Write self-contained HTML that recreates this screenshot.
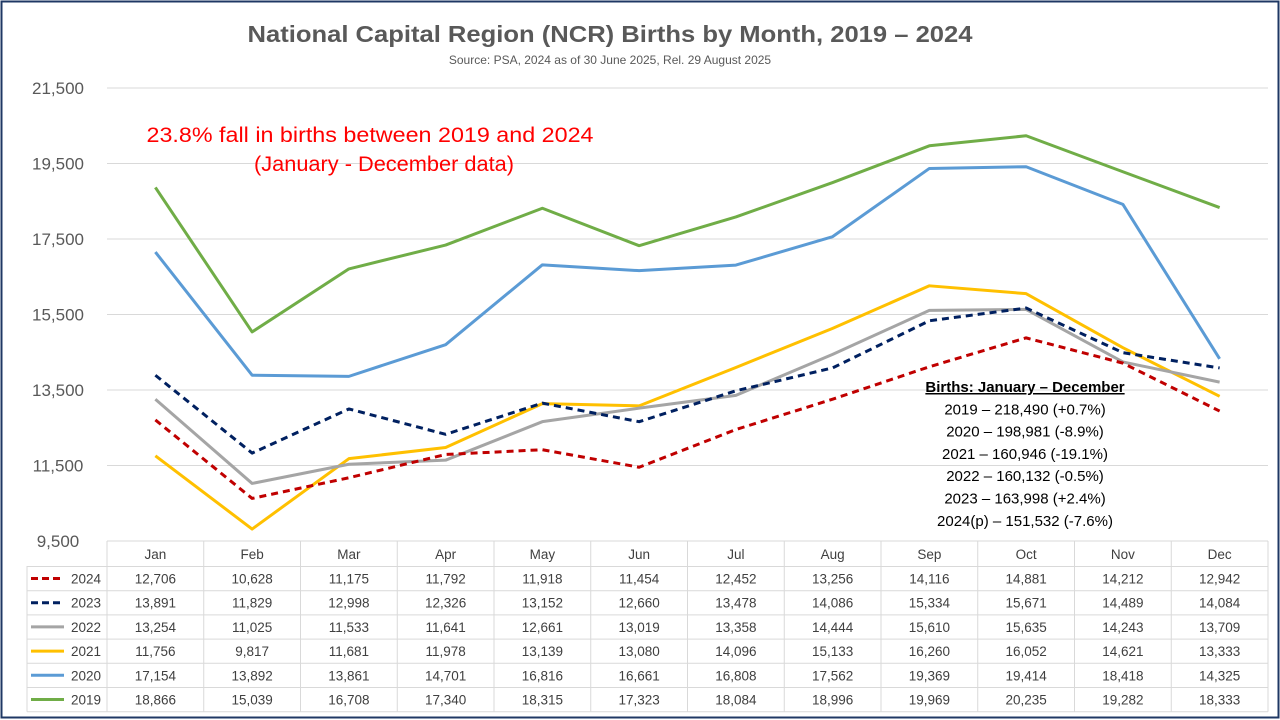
<!DOCTYPE html>
<html><head><meta charset="utf-8"><style>
body{margin:0;background:#fff;font-family:"Liberation Sans",sans-serif}
#wrap{position:relative;width:1280px;height:720px;overflow:hidden}
</style></head><body>
<div id="wrap">
<svg id="c" width="1280" height="720" xmlns="http://www.w3.org/2000/svg"></svg>
</div>
<script>
const months=["Jan","Feb","Mar","Apr","May","Jun","Jul","Aug","Sep","Oct","Nov","Dec"];
const years=["2024","2023","2022","2021","2020","2019"];
const v2024=[12706,10628,11175,11792,11918,11454,12452,13256,14116,14881,14212,12942];
const v2023=[13891,11829,12998,12326,13152,12660,13478,14086,15334,15671,14489,14084];
const v2022=[13254,11025,11533,11641,12661,13019,13358,14444,15610,15635,14243,13709];
const v2021=[11756,9817,11681,11978,13139,13080,14096,15133,16260,16052,14621,13333];
const v2020=[17154,13892,13861,14701,16816,16661,16808,17562,19369,19414,18418,14325];
const v2019=[18866,15039,16708,17340,18315,17323,18084,18996,19969,20235,19282,18333];
const yTicks=[9500,11500,13500,15500,17500,19500,21500];
const totals=["Births: January \u2013 December","2019 \u2013 218,490 (+0.7%)","2020 \u2013 198,981 (-8.9%)","2021 \u2013 160,946 (-19.1%)","2022 \u2013 160,132 (-0.5%)","2023 \u2013 163,998 (+2.4%)","2024(p) \u2013 151,532 (-7.6%)"];
const series=[
 {d:v2024,c:"#c00000",dash:"7,5"},{d:v2023,c:"#002060",dash:"7,5"},{d:v2022,c:"#a5a5a5",dash:null},
 {d:v2021,c:"#ffc000",dash:null},{d:v2020,c:"#5b9bd5",dash:null},{d:v2019,c:"#70ad47",dash:null}];
const svg=document.getElementById('c');
const NS="http://www.w3.org/2000/svg";
const X0=107,CW=96.75,YT=88,YB=541;
const x=i=>X0+CW*(i+0.5);
const y=v=>YB-(v-9500)/12000*(YB-YT);
function el(t,a,txt){const e=document.createElementNS(NS,t);for(const k in a)e.setAttribute(k,a[k]);if(txt!=null)e.textContent=txt;svg.appendChild(e);return e;}
let e=el('rect',{x:1.5,y:1.5,width:1277,height:716,fill:'none',stroke:'#1f3864','stroke-width':2});

e=el('text',{x:610,y:42,'text-anchor':'middle','font-size':23,'font-weight':'bold',fill:'#595959',textLength:725,lengthAdjust:'spacingAndGlyphs'},'National Capital Region (NCR) Births by Month, 2019 \u2013 2024');

e=el('text',{x:610,y:64,'text-anchor':'middle','font-size':12,fill:'#595959'},'Source: PSA, 2024 as of 30 June 2025, Rel. 29 August 2025');

yTicks.forEach(t=>{
 if(t>9500){e=el('line',{x1:X0,x2:1268,y1:y(t),y2:y(t),stroke:'#d9d9d9','stroke-width':1});
 }
 e=el('text',{x:58,y:y(t)+6,'text-anchor':'middle','font-size':17,fill:'#595959'},t.toLocaleString('en-US'));
 
});
e=el('text',{x:370,y:142,'text-anchor':'middle','font-size':21,fill:'#ff0000',textLength:447,lengthAdjust:'spacingAndGlyphs'},'23.8% fall in births between 2019 and 2024');

e=el('text',{x:384,y:171,'text-anchor':'middle','font-size':21,fill:'#ff0000',textLength:260,lengthAdjust:'spacingAndGlyphs'},'(January - December data)');

series.slice().reverse().forEach((s,k)=>{
 const a={points:s.d.map((v,i)=>x(i)+','+y(v)).join(' '),fill:'none',stroke:s.c,'stroke-width':3,'stroke-linejoin':'round'};
 if(s.dash)a['stroke-dasharray']=s.dash;
 e=el('polyline',a);
 
});
totals.forEach((t,i)=>{
 e=el('text',{x:1025,y:392+i*22.3,'text-anchor':'middle','font-size':15,fill:'#000','font-weight':i==0?'bold':'normal','text-decoration':i==0?'underline':'none'},t);
 
});
const RT=541;
const rowY=r=>r==0?RT:RT+25.5+(r-1)*24.2;
el('rect',{x:27,y:566,width:1241,height:145,fill:'#fff'});
el('rect',{x:X0,y:RT,width:1161,height:25.5,fill:'#fff'});
for(let r=0;r<=7;r++){const yy=rowY(r);e=el('line',{x1:r==0?X0:27,x2:1268,y1:yy,y2:yy,stroke:'#d9d9d9'});
 }
for(let c=0;c<=12;c++){const xx=X0+c*CW;e=el('line',{x1:xx,x2:xx,y1:RT,y2:rowY(7),stroke:'#d9d9d9'});
 }
el('line',{x1:27,x2:27,y1:566,y2:rowY(7),stroke:'#d9d9d9'});
months.forEach((m,i)=>{e=el('text',{x:x(i),y:RT+18,'text-anchor':'middle','font-size':13.5,fill:'#404040'},m);
 });
series.forEach((s,r)=>{
 const yy=rowY(r+1)+17;
 const a={x1:31,x2:64,y1:yy-5,y2:yy-5,stroke:s.c,'stroke-width':3};
 if(s.dash)a['stroke-dasharray']='7,4';
 e=el('line',a);
 e=el('text',{x:101,y:yy,'text-anchor':'end','font-size':13.5,fill:'#404040'},years[r]);
 
 s.d.forEach((v,i)=>{e=el('text',{x:x(i),y:yy,'text-anchor':'middle','font-size':13.5,fill:'#404040'},v.toLocaleString('en-US'));
  });
});
</script>
</body></html>
